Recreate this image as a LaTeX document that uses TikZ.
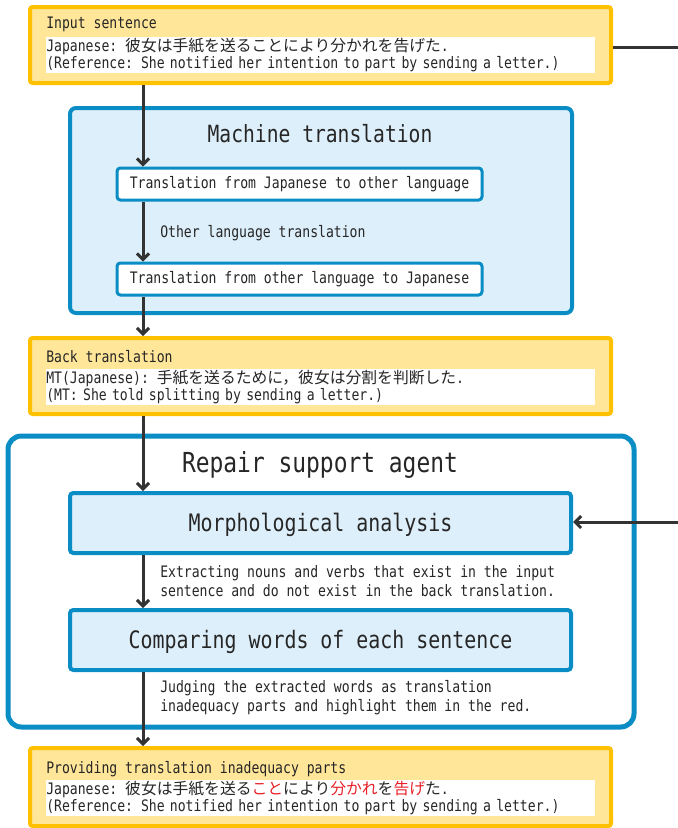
\documentclass[tikz,border=0pt]{standalone}
\usepackage{fontspec}
\usepackage{xcolor}
\usepackage{tikz}
\usetikzlibrary{arrows.meta,positioning}
\setmonofont[FakeStretch=0.83]{DejaVu Sans Mono}
\newfontfamily\jpfont{Noto Sans CJK JP}
\definecolor{cYellow}{RGB}{255,192,0}
\definecolor{cCream}{RGB}{255,230,153}
\definecolor{cBlue}{RGB}{10,140,196}
\definecolor{cSky}{RGB}{221,239,250}
\definecolor{cInk}{RGB}{51,51,51}
\definecolor{cRed}{RGB}{232,32,40}
\newcommand{\smalltt}{\ttfamily\fontsize{11.85}{12.75}\selectfont}
\newcommand{\ja}[1]{{\jpfont\fontsize{11.85}{12.75}\selectfont #1}}

\begin{document}
\begin{tikzpicture}[
  x=0.75pt, y=-0.75pt,
  stage/.style={draw=cYellow, fill=cCream, line width=3pt, rounded corners=2pt,
    minimum width=435.75pt},
  strip/.style={fill=white, anchor=north west, inner sep=0pt, minimum height=27pt,
    text width=411.75pt, align=left, font=\smalltt, text=black!85},
  heading/.style={anchor=west, inner sep=0pt, font=\smalltt, text=black!85},
  note/.style={anchor=west, inner sep=0pt, align=left, text=black!85,
    font=\ttfamily\fontsize{11.85}{14.25}\selectfont},
  stepbox/.style={draw=cBlue, line width=3pt, rounded corners=2.5pt, fill=cSky,
    minimum width=375.75pt, minimum height=45pt, text=black!85,
    text height=13.5pt, text depth=1.5pt,
    font=\ttfamily\fontsize{18}{20}\selectfont},
  mtbox/.style={draw=cBlue, line width=2.25pt, rounded corners=2.5pt, fill=white,
    minimum width=273.75pt, minimum height=24pt, font=\smalltt, text=black!85},
  flow/.style={draw=cInk, line width=2.25pt, -{Straight Barb[length=4.5pt,width=9pt]}},
]
  \useasboundingbox (0,0) rectangle (678,828);
  \coordinate (spine) at (143,0);

  % input sentence
  \node[stage, minimum height=57pt] (in) at (320.5,45) {};
  \node[heading] (inT) at (46,24) {Input sentence};
  \node[strip] (inS) at (46,37)
    {Japanese: \ja{彼女は手紙を送ることにより分かれを告げた}.\\
     (Reference: She notified her intention to part by sending a letter.)};

  % machine translation
  \node[draw=cBlue, fill=cSky, line width=3pt, rounded corners=4.5pt,
    minimum width=376.5pt, minimum height=153.75pt] (mt) at (321,210.5) {};
  \node[text=black!85, font=\ttfamily\fontsize{17.75}{19}\selectfont] (mtT) at (320,134)
    {Machine translation};
  \node[mtbox] (tr1) at (299.5,184) {Translation from Japanese to other language};
  \node[mtbox] (tr2) at (299.5,279) {Translation from other language to Japanese};
  \node[heading] (mid) at (160,233) {Other language translation};

  % back translation
  \node[stage, minimum height=57pt] (bt) at (320.5,376) {};
  \node[heading] (btT) at (46,357) {Back translation};
  \node[strip] (btS) at (46,369)
    {MT(Japanese): \ja{手紙を送るために，彼女は分割を判断した}.\\
     (MT: She told splitting by sending a letter.)};

  % repair support agent
  \node[draw=cBlue, fill=white, line width=3.75pt, rounded corners=10pt,
    minimum width=469.5pt, minimum height=218.25pt] (agent) at (321,581.5) {};
  \node[text=black!85, font=\ttfamily\fontsize{20.7}{22}\selectfont] (agT) at (320,465)
    {Repair support agent};
  \node[stepbox] (morph) at (320.5,523) {Morphological analysis};
  \node[stepbox] (comp) at (320.5,640) {Comparing words of each sentence};
  \node[note] (ext) at (160,581)
    {Extracting nouns and verbs that exist in the input\\
     sentence and do not exist in the back translation.};
  \node[note] (judge) at (160,698)
    {Judging the extracted words as translation\\
     inadequacy parts and highlight them in the red.};

  % result
  \node[stage, minimum height=58.5pt] (out) at (320.5,787) {};
  \node[heading] (outT) at (46,769) {Providing translation inadequacy parts};
  \node[strip] (outS) at (46,780)
    {Japanese: \ja{彼女は手紙を送る\textcolor{cRed}{こと}により\textcolor{cRed}{分かれ}を\textcolor{cRed}{告げ}た}.\\
     (Reference: She notified her intention to part by sending a letter.)};

  % connectors
  \draw[flow] (in.south -| spine) -- (tr1.north -| spine);
  \draw[flow] (tr1.south -| spine) -- (tr2.north -| spine);
  \draw[flow] (tr2.south -| spine) -- (bt.north -| spine);
  \draw[flow] (bt.south -| spine) -- (morph.north -| spine);
  \draw[flow] (morph.south -| spine) -- (comp.north -| spine);
  \draw[flow] (comp.south -| spine) -- (out.north -| spine);
  \coordinate (feedOut) at (678,47);
  \coordinate (feedIn) at (678,522);
  \draw[draw=cInk, line width=2.25pt] (feedOut -| in.east) -- (feedOut);
  \draw[flow] (feedIn) -- (feedIn -| morph.east);
\end{tikzpicture}
\end{document}
